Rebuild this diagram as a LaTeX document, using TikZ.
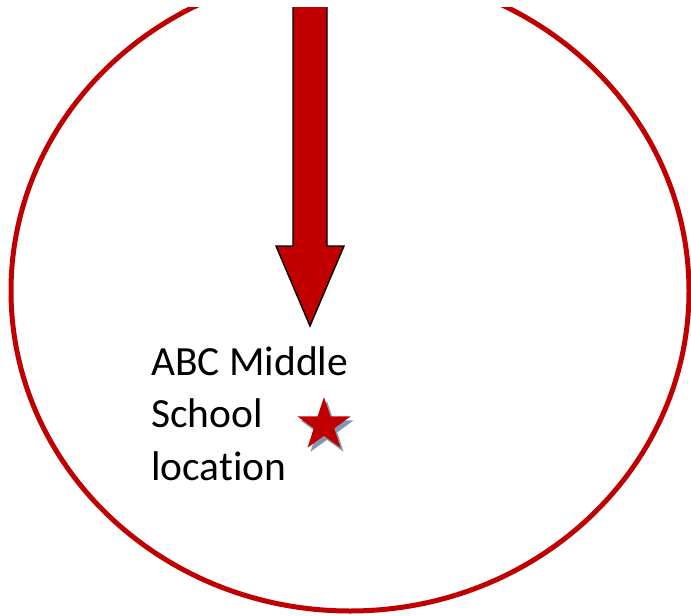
\documentclass[tikz,border=0pt]{standalone}
\usepackage{fontspec}
\setmainfont{Carlito}[RawFeature={-liga;-dlig}]
\definecolor{dred}{RGB}{192,0,0}
\definecolor{shadowblue}{RGB}{132,151,176}
\tikzset{
  ring/.style={draw=dred, line width=5pt},
  bigarrow/.style={fill=dred, draw=black, line width=1.4pt, line join=miter},
  label/.style={font=\fontsize{41.5}{52.5}\selectfont, align=left, inner sep=0pt, anchor=base west},
}
\begin{document}
\begin{tikzpicture}[x=1pt, y=-1pt]
\useasboundingbox (0,0) rectangle (691,616);
\fill[white] (0,0) rectangle (691,616);
\begin{scope}
\clip (0,7.5) rectangle (691,616);
\draw[ring] (350,291) ellipse [x radius=339, y radius=320];
\draw[bigarrow] (293,6) -- (327,6) -- (327,246) -- (344,246) -- (310,326) -- (276,246) -- (293,246) -- cycle;
\end{scope}
\fill[shadowblue, shift={(327,429)}] (-90:28) -- (-54:10.8) -- (-18:28) -- (18:10.8) -- (54:28) -- (90:10.8) -- (126:28) -- (162:10.8) -- (198:28) -- (234:10.8) -- cycle;
\fill[dred, shift={(324,425)}] (-90:28) -- (-54:10.8) -- (-18:28) -- (18:10.8) -- (54:28) -- (90:10.8) -- (126:28) -- (162:10.8) -- (198:28) -- (234:10.8) -- cycle;
\node[label] (txt) at (151,480) {ABC Middle\\School\\location};
\end{tikzpicture}
\end{document}
